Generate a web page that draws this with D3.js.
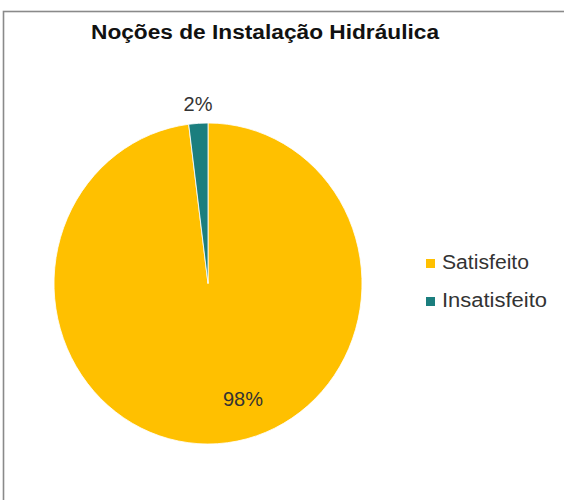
<!DOCTYPE html>
<html>
<head>
<meta charset="utf-8">
<script src="https://cdn.jsdelivr.net/npm/d3@7"></script>
<style>
  body { margin: 0; background: #fff; }
  svg { display: block; font-family: "Liberation Sans", Arial, sans-serif; }
</style>
</head>
<body>
<div id="chart"></div>
<script>
var categories = ["Satisfeito", "Insatisfeito"];
var values = [98, 2];
var labels = ["98%", "2%"];
var colors = ["#ffc000", "#1b7e7e"];

function pieChart() {
    var w = 564;
    var h = 500;

    var cx = 208;
    var cy = 283.5;
    var r = 154;
    var sy = 160.5 / r; // the picture is a little taller than wide

    var svg = d3.select("#chart")
            .append("svg")
            .attr("width", w)
            .attr("height", h);

    // chart border (runs off the right and bottom edge)
    svg.append("rect")
        .attr("x", 3.5)
        .attr("y", 11.5)
        .attr("width", 600)
        .attr("height", 560)
        .attr("fill", "#fff")
        .attr("stroke", "#8a8a8a")
        .attr("stroke-width", 1.6);

    svg.append("text")
        .attr("x", 91)
        .attr("y", 39)
        .attr("font-size", 20)
        .attr("font-weight", "bold")
        .attr("fill", "#111")
        .attr("textLength", 348)
        .attr("lengthAdjust", "spacingAndGlyphs")
        .text("Noções de Instalação  Hidráulica");

    var data = categories.map(function (c, i) {
        return {name: c, value: values[i], label: labels[i], color: colors[i]};
    });

    var pie = d3.pie()
        .sort(null)
        .value(function (d) { return d.value; });

    var arc = d3.arc()
        .innerRadius(0)
        .outerRadius(r);

    var g = svg.append("g")
        .attr("transform", "translate(" + cx + "," + cy + ") scale(1," + sy + ")");

    var arcs = pie(data);

    g.selectAll("path")
        .data(arcs)
        .enter()
        .append("path")
        .attr("d", arc)
        .attr("fill", function (d) { return d.data.color; })
        .attr("stroke", "#fff")
        .attr("stroke-width", 0.8);

    // data labels: big slice inside, small one just outside
    var inner = d3.arc().innerRadius(r * 0.72).outerRadius(r * 0.72);
    var outer = d3.arc().innerRadius(r * 1.13).outerRadius(r * 1.13);
    var nudge = [[28, 7], [1, 9]];

    svg.selectAll("text.lbl")
        .data(arcs)
        .enter()
        .append("text")
        .attr("class", "lbl")
        .attr("x", function (d, i) {
            var p = (i === 0 ? inner : outer).centroid(d);
            return cx + p[0] + nudge[i][0];
        })
        .attr("y", function (d, i) {
            var p = (i === 0 ? inner : outer).centroid(d);
            return cy + p[1] * sy + nudge[i][1];
        })
        .attr("text-anchor", "middle")
        .attr("font-size", 20)
        .attr("fill", "#333")
        .text(function (d) { return d.data.label; });

    var legendWidths = [87, 105];

    var legend = svg.selectAll("g.leg")
        .data(data)
        .enter()
        .append("g")
        .attr("class", "leg")
        .attr("transform", function (d, i) {
            return "translate(426," + (259 + i * 38) + ")";
        });

    legend.append("rect")
        .attr("width", 9)
        .attr("height", 9)
        .attr("fill", function (d) { return d.color; });

    legend.append("text")
        .attr("x", 16)
        .attr("y", 10)
        .attr("font-size", 20)
        .attr("fill", "#333")
        .attr("textLength", function (d, i) { return legendWidths[i]; })
        .attr("lengthAdjust", "spacingAndGlyphs")
        .text(function (d) { return d.name; });
}

window.onload = pieChart;
</script>
</body>
</html>
